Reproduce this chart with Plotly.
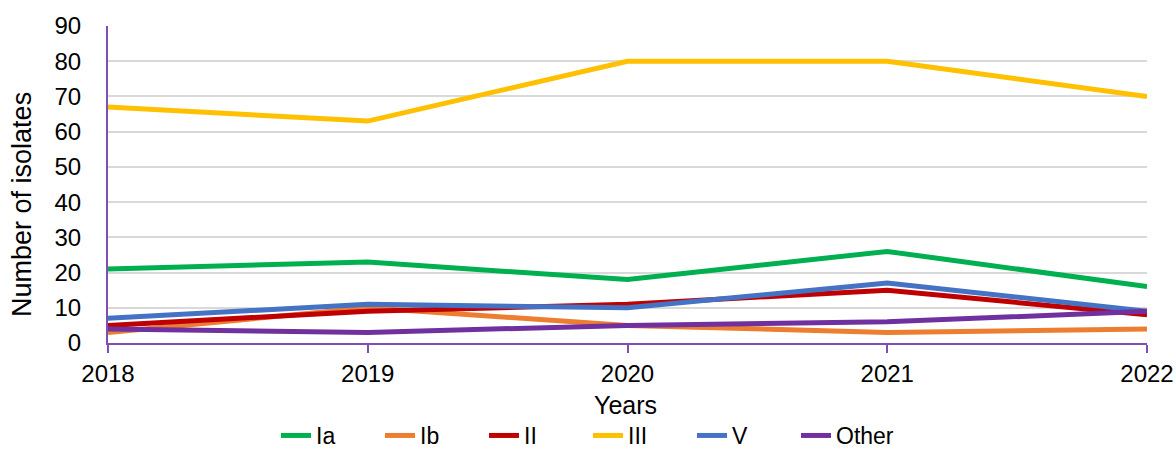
import plotly.graph_objects as go

years = [2018, 2019, 2020, 2021, 2022]
serotypes = ["Ia", "Ib", "II", "III", "V", "Other"]
ia = [21, 23, 18, 26, 16]
ib = [3, 10, 5, 3, 4]
ii = [5, 9, 11, 15, 8]
iii = [67, 63, 80, 80, 70]
v = [7, 11, 10, 17, 9]
other = [4, 3, 5, 6, 9]
colors = ["#00B050", "#ED7D31", "#C00000", "#FFC000", "#4472C4", "#7030A0"]

series = [ia, ib, ii, iii, v, other]
axis_purple = "#7F4FB3"

fig = go.Figure()
for name, vals, col in zip(serotypes, series, colors):
    fig.add_trace(go.Scatter(
        x=years, y=vals, name=name, mode="lines",
        line=dict(color=col, width=5),
    ))

family = "Liberation Sans, Arial, sans-serif"
font = dict(family=family, size=24, color="#000000")

fig.update_layout(
    width=1176, height=457,
    margin=dict(l=108, r=29, t=26, b=114, autoexpand=False),
    paper_bgcolor="white", plot_bgcolor="white",
    font=font,
    showlegend=True,
    legend=dict(
        orientation="h", x=0.5, xref="container", xanchor="center",
        y=0, yref="container", yanchor="bottom",
        font=dict(family=family, size=23, color="#000000"),
        tracegroupgap=0, entrywidth=59, entrywidthmode="pixels",
    ),
    xaxis=dict(
        range=[2018, 2022], tickmode="array", tickvals=years,
        ticktext=[str(y) for y in years],
        showgrid=False, zeroline=False, automargin=False,
        showline=True, linecolor=axis_purple, linewidth=2,
        ticks="outside", ticklen=8, tickcolor=axis_purple, tickwidth=2,
        tickfont=font,
    ),
    yaxis=dict(
        range=[0, 90], tickmode="linear", dtick=10,
        showgrid=True, gridcolor="#D9D9D9", gridwidth=2,
        zeroline=False, automargin=False,
        showline=True, linecolor=axis_purple, linewidth=2,
        ticks="", ticklabelstandoff=20,
        tickfont=font,
    ),
    annotations=[
        dict(
            text="Number of isolates", textangle=-90, showarrow=False,
            xref="paper", yref="paper", x=-0.0828, y=0.4385,
            xanchor="center", yanchor="middle",
            font=dict(family=family, size=27, color="#000000"),
        ),
        dict(
            text="Years", showarrow=False,
            xref="paper", yref="paper", x=0.4985, y=-0.195,
            xanchor="center", yanchor="middle",
            font=dict(family=family, size=25, color="#000000"),
        ),
    ],
)

fig.write_html("out.html")
